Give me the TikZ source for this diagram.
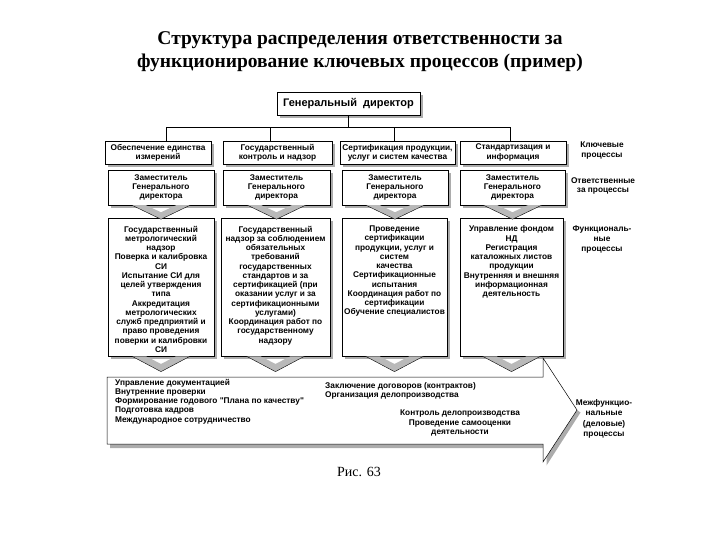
\documentclass[tikz,border=0pt]{standalone}
\usepackage{fontspec}
\setmainfont{Liberation Serif}
\newfontfamily\ars{Liberation Sans}
\usetikzlibrary{shadows,calc}
\begin{document}
\begin{tikzpicture}[x=1pt,y=-1pt,
  sh/.style={drop shadow={shadow xshift=3pt,shadow yshift=-3pt,fill=gray!65,opacity=1}},
  bx/.style={draw=black, line width=0.5pt, fill=white, sh, inner sep=0pt, align=center, font=\ars\bfseries\fontsize{8.3}{9.2}\selectfont},
  lbl/.style={align=center, inner sep=0pt, font=\ars\bfseries\fontsize{8.3}{9.6}\selectfont},
  ftext/.style={anchor=north, align=center, inner sep=0pt, font=\ars\bfseries\fontsize{8.3}{9.25}\selectfont},
  atext/.style={anchor=north west, align=left, inner sep=0pt, font=\ars\bfseries\fontsize{8.3}{9.2}\selectfont},
  chev/.pic={\fill[gray!55] (-29,0) -- (0,14) -- (29,0) -- (15,0) -- (0,7) -- (-15,0) -- cycle;
             \draw[line width=0.4pt] (-29,0) -- (0,14) -- (29,0);}
]
\useasboundingbox (0,0) rectangle (720,540);

% title
\node[font=\bfseries\fontsize{19.5}{23}\selectfont, align=center, inner sep=0pt] (title) at (360,52)
  {Структура распределения ответственности за\\функционирование ключевых процессов (пример)};

% director
\node[bx, minimum width=143pt, minimum height=23pt, font=\ars\bfseries\fontsize{11}{12}\selectfont] (dir) at (348.5,103.5) {Генеральный\ \ директор};

% key processes
\node[bx, minimum width=106pt, minimum height=23pt] (k1) at (158,152.5) {Обеспечение единства\\измерений};
\node[bx, minimum width=109pt, minimum height=23pt] (k2) at (277.5,152.5) {Государственный\\контроль и надзор};
\node[bx, minimum width=115pt, minimum height=23pt] (k3) at (397.5,152.5) {Сертификация продукции,\\услуг и систем качества};
\node[bx, minimum width=106pt, minimum height=23pt] (k4) at (513,152.5) {Стандартизация и\\информация};

% connectors
\draw[line width=0.5pt] (dir.south) -- ++(0,13);
\draw[line width=0.5pt] ([xshift=8pt]k1.north) -- ++(0,-13) -| ([xshift=-3pt]k4.north);
\draw[line width=0.5pt] ([xshift=-7.5pt]k2.north) -- ++(0,-13);
\draw[line width=0.5pt] ([xshift=-3.5pt]k3.north) -- ++(0,-13);

% deputies
\node[bx, minimum width=106pt, minimum height=35pt] (d1) at (161,187.5) {Заместитель\\Генерального\\директора};
\node[bx, minimum width=107pt, minimum height=35pt] (d2) at (276.5,187.5) {Заместитель\\Генерального\\директора};
\node[bx, minimum width=106pt, minimum height=35pt] (d3) at (395,187.5) {Заместитель\\Генерального\\директора};
\node[bx, minimum width=105pt, minimum height=35pt] (d4) at (512.5,187.5) {Заместитель\\Генерального\\директора};

% functional boxes
\node[bx, minimum width=106pt, minimum height=138pt] (f1) at (161,287) {};
\node[bx, minimum width=109pt, minimum height=138pt] (f2) at (275.5,287) {};
\node[bx, minimum width=105pt, minimum height=138pt] (f3) at (394.5,287) {};
\node[bx, minimum width=103pt, minimum height=138pt] (f4) at (511.5,287) {};

\node[ftext] (f1t) at ([yshift=-8pt]f1.north) {Государственный\\метрологический\\надзор\\Поверка и калибровка\\СИ\\Испытание СИ для\\целей утверждения\\типа\\Аккредитация\\метрологических\\служб предприятий и\\право проведения\\поверки и калибровки\\СИ};
\node[ftext] (f2t) at ([yshift=-8pt]f2.north) {Государственный\\надзор за соблюдением\\обязательных\\требований\\государственных\\стандартов и за\\сертификацией (при\\оказании услуг и за\\сертификационными\\услугами)\\Координация работ по\\государственному\\надзору};
\node[ftext] (f3t) at ([yshift=-8pt]f3.north) {Проведение\\сертификации\\продукции, услуг и\\систем\\качества\\Сертификационные\\испытания\\Координация работ по\\сертификации\\Обучение специалистов};
\node[ftext] (f4t) at ([yshift=-8pt]f4.north) {Управление фондом\\НД\\Регистрация\\каталожных листов\\продукции\\Внутренняя и внешняя\\информационная\\деятельность};

% chevrons deputies -> functional
\pic at (d1.south) {chev};
\pic at (d2.south) {chev};
\pic at (d3.south) {chev};
\pic at (d4.south) {chev};

% big arrow (shadow on bottom and lower diagonal, then the arrow)
\fill[gray!65] (110,444) -- (543,444) -- (543,462) -- (577,410) -- (580.5,412.5) -- (546.5,465.5) -- (546.5,448) -- (110,448) -- cycle;
\draw[fill=white, line width=0.5pt] (107,377) -- (543,377) -- (543,358) -- (577,410) -- (543,462) -- (543,444) -- (107,444) -- cycle;

% chevrons functional -> arrow
\pic[yscale=1.1] at (f1.south) {chev};
\pic[yscale=1.1] at (f2.south) {chev};
\pic[yscale=1.1] at (f3.south) {chev};
\pic[yscale=1.1] at (f4.south) {chev};

\node[atext] (a1) at (115,379) {Управление документацией\\Внутренние проверки\\Формирование годового "Плана по качеству"\\Подготовка кадров\\Международное сотрудничество};
\node[atext] (a2) at (325,382) {Заключение договоров (контрактов)\\Организация делопроизводства};
\node[ftext] (a3) at (460,410) {Контроль делопроизводства\\Проведение самооценки\\деятельности};

% side labels
\node[lbl] (lk) at (602,150.5) {Ключевые\\процессы};
\node[lbl] (lo) at (603,186) {Ответственные\\за процессы};
\node[lbl] (lf) at (602,239.5) {Функциональ-\\ные\\процессы};
\node[lbl, font=\ars\bfseries\fontsize{8.3}{10.3}\selectfont] (lm) at (604,419) {Межфункцио-\\нальные\\(деловые)\\процессы};

% caption
\node[font=\fontsize{14}{16}\selectfont, inner sep=0pt] (cap) at (359,472) {Рис. 63};
\end{tikzpicture}
\end{document}
